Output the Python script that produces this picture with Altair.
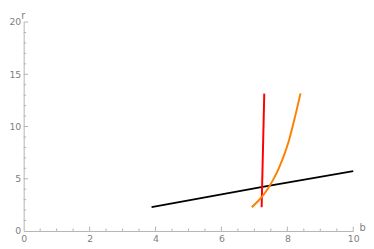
import altair as alt
import pandas as pd

# ---- data ----
black_x = [3.88, 7.25, 10.0]
black_y = [2.28, 4.22, 5.73]
red_x = [7.22, 7.30]
red_y = [2.28, 13.15]
orange_x = [6.92, 7.10, 7.22, 7.35, 7.46, 7.60, 7.75, 7.92, 8.04, 8.20, 8.40]
orange_y = [2.28, 2.82, 3.24, 3.78, 4.30, 5.08, 6.07, 7.43, 8.57, 10.50, 13.17]

x_labels = [0, 2, 4, 6, 8, 10]
y_labels = [0, 5, 10, 15, 20]
x_major = [2, 4, 6, 8, 10]
x_minor = [0.5, 1, 1.5, 2.5, 3, 3.5, 4.5, 5, 5.5, 6.5, 7, 7.5, 8.5, 9, 9.5]
y_major = [5, 10, 15, 20]
y_minor = [1, 2, 3, 4, 6, 7, 8, 9, 11, 12, 13, 14, 16, 17, 18, 19]

series_names = ["black", "red", "orange"]
series_colors = ["#000000", "#ff0000", "#ff8000"]

rows = []
for name, xs_, ys_ in [("black", black_x, black_y), ("red", red_x, red_y), ("orange", orange_x, orange_y)]:
    for i, (a, b) in enumerate(zip(xs_, ys_)):
        rows.append({"s": name, "i": i, "x": a, "y": b})
df = pd.DataFrame(rows)

W, H = 336, 213
GRAY = "#b3b3b3"
LABEL = "#808080"
FONT = "DejaVu Sans"

xs = alt.Scale(domain=[0, 10], nice=False, zero=False)
ys = alt.Scale(domain=[0, 20], nice=False, zero=False)

xaxis = alt.Axis(values=x_labels, ticks=False, grid=False, domainColor=GRAY, domainWidth=1,
                 labelColor=LABEL, labelFont=FONT, labelFontSize=9.5, labelPadding=3,
                 labelFlush=False, format="d",
                 title="b", titleX=W + 9, titleY=-3, titleAngle=0, titleAlign="center",
                 titleBaseline="middle", titleFont=FONT, titleFontSize=10,
                 titleFontWeight="normal", titleColor=LABEL)
yaxis = alt.Axis(values=y_labels, ticks=False, grid=False, domainColor=GRAY, domainWidth=1,
                 labelColor=LABEL, labelFont=FONT, labelFontSize=9.5, labelPadding=3,
                 labelFlush=False, format="d",
                 title="r", titleX=-1, titleY=-4, titleAngle=0, titleAlign="center",
                 titleBaseline="alphabetic", titleFont=FONT, titleFontSize=10,
                 titleFontWeight="normal", titleColor=LABEL)

lines = alt.Chart(df).mark_line(strokeWidth=2, interpolate="monotone").encode(
    x=alt.X("x:Q", scale=xs, axis=xaxis),
    y=alt.Y("y:Q", scale=ys, axis=yaxis),
    color=alt.Color("s:N", scale=alt.Scale(domain=series_names, range=series_colors), legend=None),
    order=alt.Order("i:Q"),
)

xmaj = alt.Chart(pd.DataFrame({"x": x_major})).mark_rule(color=GRAY, strokeWidth=1).encode(
    x=alt.X("x:Q", scale=xs, axis=xaxis), y=alt.value(H), y2=alt.value(H - 4.5))
xmin = alt.Chart(pd.DataFrame({"x": x_minor})).mark_rule(color=GRAY, strokeWidth=1).encode(
    x=alt.X("x:Q", scale=xs, axis=xaxis), y=alt.value(H), y2=alt.value(H - 2.5))
ymaj = alt.Chart(pd.DataFrame({"y": y_major})).mark_rule(color=GRAY, strokeWidth=1).encode(
    y=alt.Y("y:Q", scale=ys, axis=yaxis), x=alt.value(0), x2=alt.value(4.5))
ymin = alt.Chart(pd.DataFrame({"y": y_minor})).mark_rule(color=GRAY, strokeWidth=1).encode(
    y=alt.Y("y:Q", scale=ys, axis=yaxis), x=alt.value(0), x2=alt.value(2.5))

chart = alt.layer(xmin, xmaj, ymin, ymaj, lines).properties(
    width=W, height=H, padding={"left": 0, "top": 0, "right": 0, "bottom": 0}
).configure_view(stroke=None)

chart.save("out.html", embed_options={"renderer": "svg", "actions": False})
